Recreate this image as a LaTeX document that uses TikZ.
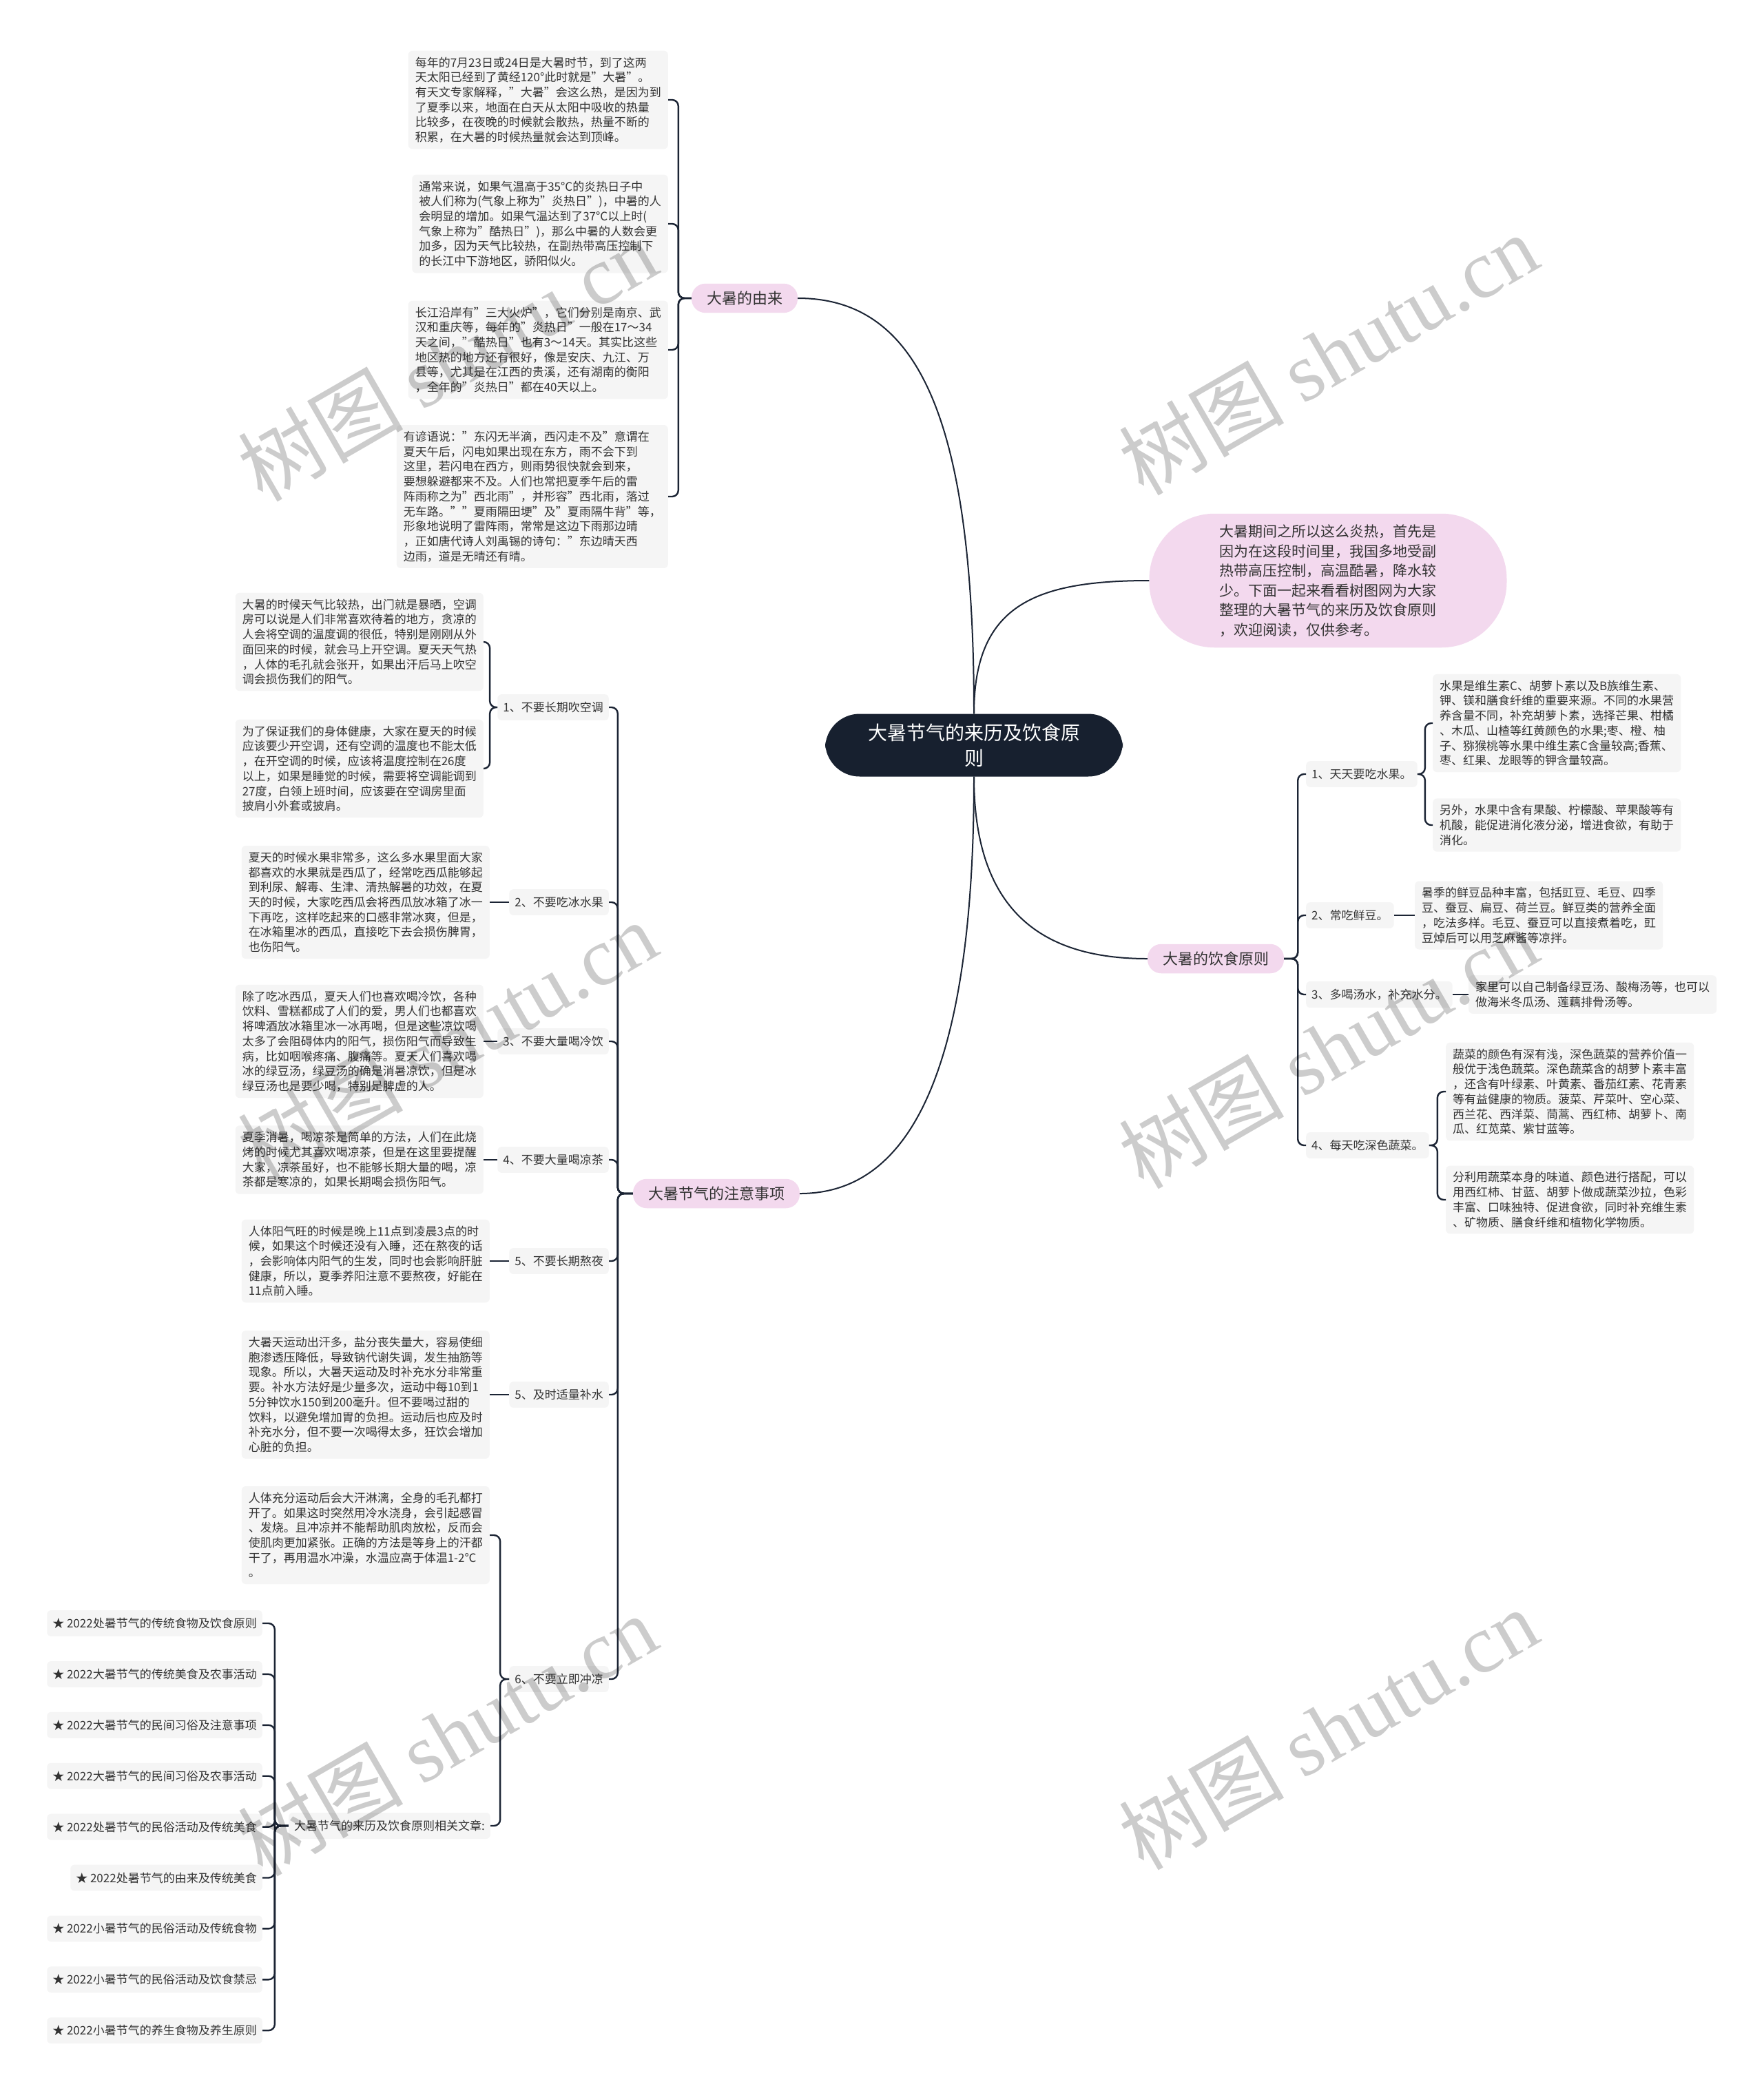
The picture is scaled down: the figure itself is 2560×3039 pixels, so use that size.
\documentclass[tikz,border=0pt]{standalone}
\usepackage{fontspec}
\setmainfont{Noto Sans CJK SC}
\newfontfamily\wmlatin{Liberation Serif}
\usepackage{xcolor}
\usepackage{tikz}

\definecolor{inkline}{HTML}{1B2434}
\definecolor{rootfill}{HTML}{17202F}
\definecolor{pinkfill}{HTML}{F3D9EE}
\definecolor{boxfill}{HTML}{F5F5F5}
\definecolor{txtgray}{HTML}{333333}

\begin{document}
\begin{tikzpicture}[
  x=1pt, y=-1pt,
  rootbox/.style={fill=rootfill, text=white, rounded corners=50pt, align=center,
                  font=\fontsize{28}{37}\selectfont, inner xsep=62pt, inner ysep=14pt},
  topicbox/.style={fill=pinkfill, rounded corners=20pt, text=txtgray,
                   font=\fontsize{22}{27}\selectfont, inner xsep=22pt, inner ysep=11pt},
  introbox/.style={fill=pinkfill, rounded corners=95pt, align=left, text=txtgray,
                   font=\fontsize{21}{28.5}\selectfont, inner xsep=102pt, inner ysep=16pt},
  subbox/.style={fill=boxfill, rounded corners=6pt, text=txtgray,
                 font=\fontsize{17}{21.7}\selectfont, inner xsep=8pt, inner ysep=11pt},
  textbox/.style={fill=boxfill, rounded corners=6pt, align=left, text=txtgray,
                  font=\fontsize{17}{21.7}\selectfont, inner xsep=10pt, inner ysep=9pt},
  trunk/.style={draw=inkline, line width=2pt},
  branch/.style={draw=inkline, line width=2.4pt, rounded corners=9pt},
  wmark/.style={rotate=30, text=black, text opacity=0.2, font=\fontsize{120}{125}\selectfont}
]
\fill[white] (0,0) rectangle (2560,3039);
\useasboundingbox (0,0) rectangle (2560,3039);

%% centre and first level
\node[rootbox] (root) at (1414,1082) {大暑节气的来历及饮食原\\则};
\node[topicbox] (yl) at (1081,433) {大暑的由来};
\node[introbox] (intro) at (1928,843) {大暑期间之所以这么炎热，首先是\\因为在这段时间里，我国多地受副\\热带高压控制，高温酷暑，降水较\\少。下面一起来看看树图网为大家\\整理的大暑节气的来历及饮食原则\\，欢迎阅读，仅供参考。};
\node[topicbox] (ys) at (1765,1392) {大暑的饮食原则};
\node[topicbox] (zy) at (1040,1733) {大暑节气的注意事项};

\draw[trunk] (root.north) .. controls (1414,600) and (1330,433) .. (yl.east);
\draw[trunk] (root.north) .. controls (1414,880) and (1500,843) .. (intro.west);
\draw[trunk] (root.south) .. controls (1414,1330) and (1520,1392) .. (ys.west);
\draw[trunk] (root.south) .. controls (1414,1600) and (1300,1733) .. (zy.east);

%% the origin
\node[textbox, anchor=east] (yl1) at (970,145) {每年的7月23日或24日是大暑时节，到了这两\\天太阳已经到了黄经120°此时就是"大暑"。\\有天文专家解释，"大暑"会这么热，是因为到\\了夏季以来，地面在白天从太阳中吸收的热量\\比较多，在夜晚的时候就会散热，热量不断的\\积累，在大暑的时候热量就会达到顶峰。};
\node[textbox, anchor=east] (yl2) at (970,325) {通常来说，如果气温高于35°C的炎热日子中\\被人们称为(气象上称为"炎热日")，中暑的人\\会明显的增加。如果气温达到了37°C以上时(\\气象上称为"酷热日")，那么中暑的人数会更\\加多，因为天气比较热，在副热带高压控制下\\的长江中下游地区，骄阳似火。};
\node[textbox, anchor=east] (yl3) at (970,508) {长江沿岸有"三大火炉"，它们分别是南京、武\\汉和重庆等，每年的"炎热日"一般在17～34\\天之间，"酷热日"也有3～14天。其实比这些\\地区热的地方还有很好，像是安庆、九江、万\\县等，尤其是在江西的贵溪，还有湖南的衡阳\\，全年的"炎热日"都在40天以上。};
\node[textbox, anchor=east] (yl4) at (970,721) {有谚语说："东闪无半滴，西闪走不及"意谓在\\夏天午后，闪电如果出现在东方，雨不会下到\\这里，若闪电在西方，则雨势很快就会到来，\\要想躲避都来不及。人们也常把夏季午后的雷\\阵雨称之为"西北雨"，并形容"西北雨，落过\\无车路。""夏雨隔田埂"及"夏雨隔牛背"等，\\形象地说明了雷阵雨，常常是这边下雨那边晴\\，正如唐代诗人刘禹锡的诗句："东边晴天西\\边雨，道是无晴还有晴。};

\draw[branch] (yl.west) -- ++(-19,0) |- (yl1.east);
\draw[branch] (yl.west) -- ++(-19,0) |- (yl2.east);
\draw[branch] (yl.west) -- ++(-19,0) |- (yl3.east);
\draw[branch] (yl.west) -- ++(-19,0) |- (yl4.east);

%% eating principles
\node[subbox, anchor=west] (ys1) at (1896,1124) {1、天天要吃水果。};
\node[subbox, anchor=west] (ys2) at (1896,1329) {2、常吃鲜豆。};
\node[subbox, anchor=west] (ys3) at (1896,1444) {3、多喝汤水，补充水分。};
\node[subbox, anchor=west] (ys4) at (1896,1663) {4、每天吃深色蔬菜。};

\draw[branch] (ys.east) -- ++(20,0) |- (ys1.west);
\draw[branch] (ys.east) -- ++(20,0) |- (ys2.west);
\draw[branch] (ys.east) -- ++(20,0) |- (ys3.west);
\draw[branch] (ys.east) -- ++(20,0) |- (ys4.west);

\node[textbox, anchor=west] (ys1a) at (2080,1050) {水果是维生素C、胡萝卜素以及B族维生素、\\钾、镁和膳食纤维的重要来源。不同的水果营\\养含量不同，补充胡萝卜素，选择芒果、柑橘\\、木瓜、山楂等红黄颜色的水果;枣、橙、柚\\子、猕猴桃等水果中维生素C含量较高;香蕉、\\枣、红果、龙眼等的钾含量较高。};
\node[textbox, anchor=west] (ys1b) at (2080,1198) {另外，水果中含有果酸、柠檬酸、苹果酸等有\\机酸，能促进消化液分泌，增进食欲，有助于\\消化。};
\node[textbox, anchor=west] (ys2a) at (2054,1329) {暑季的鲜豆品种丰富，包括豇豆、毛豆、四季\\豆、蚕豆、扁豆、荷兰豆。鲜豆类的营养全面\\，吃法多样。毛豆、蚕豆可以直接煮着吃，豇\\豆焯后可以用芝麻酱等凉拌。};
\node[textbox, anchor=west] (ys3a) at (2132,1444) {家里可以自己制备绿豆汤、酸梅汤等，也可以\\做海米冬瓜汤、莲藕排骨汤等。};
\node[textbox, anchor=west] (ys4a) at (2099,1585) {蔬菜的颜色有深有浅，深色蔬菜的营养价值一\\般优于浅色蔬菜。深色蔬菜含的胡萝卜素丰富\\，还含有叶绿素、叶黄素、番茄红素、花青素\\等有益健康的物质。菠菜、芹菜叶、空心菜、\\西兰花、西洋菜、茼蒿、西红柿、胡萝卜、南\\瓜、红苋菜、紫甘蓝等。};
\node[textbox, anchor=west] (ys4b) at (2099,1742) {分利用蔬菜本身的味道、颜色进行搭配，可以\\用西红柿、甘蓝、胡萝卜做成蔬菜沙拉，色彩\\丰富、口味独特、促进食欲，同时补充维生素\\、矿物质、膳食纤维和植物化学物质。};

\draw[branch] (ys1.east) -- ++(11,0) |- (ys1a.west);
\draw[branch] (ys1.east) -- ++(11,0) |- (ys1b.west);
\draw[branch] (ys2.east) -- (ys2a.west);
\draw[branch] (ys3.east) -- (ys3a.west);
\draw[branch] (ys4.east) -- ++(12,0) |- (ys4a.west);
\draw[branch] (ys4.east) -- ++(12,0) |- (ys4b.west);

%% things to watch
\node[subbox, anchor=east] (zy1) at (884,1027) {1、不要长期吹空调};
\node[subbox, anchor=east] (zy2) at (884,1310) {2、不要吃冰水果};
\node[subbox, anchor=east] (zy3) at (884,1512) {3、不要大量喝冷饮};
\node[subbox, anchor=east] (zy4) at (884,1684) {4、不要大量喝凉茶};
\node[subbox, anchor=east] (zy5) at (884,1831) {5、不要长期熬夜};
\node[subbox, anchor=east] (zy6) at (884,2025) {5、及时适量补水};
\node[subbox, anchor=east] (zy7) at (884,2438) {6、不要立即冲凉};

\draw[branch] (zy.west) -- ++(-22,0) |- (zy1.east);
\draw[branch] (zy.west) -- ++(-22,0) |- (zy2.east);
\draw[branch] (zy.west) -- ++(-22,0) |- (zy3.east);
\draw[branch] (zy.west) -- ++(-22,0) |- (zy4.east);
\draw[branch] (zy.west) -- ++(-22,0) |- (zy5.east);
\draw[branch] (zy.west) -- ++(-22,0) |- (zy6.east);
\draw[branch] (zy.west) -- ++(-22,0) |- (zy7.east);

\node[textbox, anchor=east] (zy1a) at (702,932) {大暑的时候天气比较热，出门就是暴晒，空调\\房可以说是人们非常喜欢待着的地方，贪凉的\\人会将空调的温度调的很低，特别是刚刚从外\\面回来的时候，就会马上开空调。夏天天气热\\，人体的毛孔就会张开，如果出汗后马上吹空\\调会损伤我们的阳气。};
\node[textbox, anchor=east] (zy1b) at (702,1116) {为了保证我们的身体健康，大家在夏天的时候\\应该要少开空调，还有空调的温度也不能太低\\，在开空调的时候，应该将温度控制在26度\\以上，如果是睡觉的时候，需要将空调能调到\\27度，白领上班时间，应该要在空调房里面\\披肩小外套或披肩。};
\node[textbox, anchor=east] (zy2a) at (711,1310) {夏天的时候水果非常多，这么多水果里面大家\\都喜欢的水果就是西瓜了，经常吃西瓜能够起\\到利尿、解毒、生津、清热解暑的功效，在夏\\天的时候，大家吃西瓜会将西瓜放冰箱了冰一\\下再吃，这样吃起来的口感非常冰爽，但是，\\在冰箱里冰的西瓜，直接吃下去会损伤脾胃，\\也伤阳气。};
\node[textbox, anchor=east] (zy3a) at (702,1512) {除了吃冰西瓜，夏天人们也喜欢喝冷饮，各种\\饮料、雪糕都成了人们的爱，男人们也都喜欢\\将啤酒放冰箱里冰一冰再喝，但是这些凉饮喝\\太多了会阻碍体内的阳气，损伤阳气而导致生\\病，比如咽喉疼痛、腹痛等。夏天人们喜欢喝\\冰的绿豆汤，绿豆汤的确是消暑凉饮，但是冰\\绿豆汤也是要少喝，特别是脾虚的人。};
\node[textbox, anchor=east] (zy4a) at (702,1684) {夏季消暑，喝凉茶是简单的方法，人们在此烧\\烤的时候尤其喜欢喝凉茶，但是在这里要提醒\\大家，凉茶虽好，也不能够长期大量的喝，凉\\茶都是寒凉的，如果长期喝会损伤阳气。};
\node[textbox, anchor=east] (zy5a) at (711,1831) {人体阳气旺的时候是晚上11点到凌晨3点的时\\候，如果这个时候还没有入睡，还在熬夜的话\\，会影响体内阳气的生发，同时也会影响肝脏\\健康，所以，夏季养阳注意不要熬夜，好能在\\11点前入睡。};
\node[textbox, anchor=east] (zy6a) at (711,2025) {大暑天运动出汗多，盐分丧失量大，容易使细\\胞渗透压降低，导致钠代谢失调，发生抽筋等\\现象。所以，大暑天运动及时补充水分非常重\\要。补水方法好是少量多次，运动中每10到1\\5分钟饮水150到200毫升。但不要喝过甜的\\饮料，以避免增加胃的负担。运动后也应及时\\补充水分，但不要一次喝得太多，狂饮会增加\\心脏的负担。};
\node[textbox, anchor=east] (zy7a) at (711,2229) {人体充分运动后会大汗淋漓，全身的毛孔都打\\开了。如果这时突然用冷水浇身，会引起感冒\\、发烧。且冲凉并不能帮助肌肉放松，反而会\\使肌肉更加紧张。正确的方法是等身上的汗都\\干了，再用温水冲澡，水温应高于体温1-2℃\\。};
\node[subbox, anchor=east] (zyrel) at (712,2651) {大暑节气的来历及饮食原则相关文章:};

\draw[branch] (zy1.west) -- ++(-11,0) |- (zy1a.east);
\draw[branch] (zy1.west) -- ++(-11,0) |- (zy1b.east);
\draw[branch] (zy2.west) -- (zy2a.east);
\draw[branch] (zy3.west) -- (zy3a.east);
\draw[branch] (zy4.west) -- (zy4a.east);
\draw[branch] (zy5.west) -- (zy5a.east);
\draw[branch] (zy6.west) -- (zy6a.east);
\draw[branch] (zy7.west) -- ++(-13,0) |- (zy7a.east);
\draw[branch] (zy7.west) -- ++(-13,0) |- (zyrel.east);

%% related articles
\foreach \txt [count=\i] in {2022处暑节气的传统食物及饮食原则, 2022大暑节气的传统美食及农事活动,
    2022大暑节气的民间习俗及注意事项, 2022大暑节气的民间习俗及农事活动, 2022处暑节气的民俗活动及传统美食,
    2022处暑节气的由来及传统美食, 2022小暑节气的民俗活动及传统食物, 2022小暑节气的民俗活动及饮食禁忌,
    2022小暑节气的养生食物及养生原则} {
  \node[subbox, anchor=east] (rel\i) at (381,{2357+(\i-1)*73.9}) {★ \txt};
  \draw[branch] (zyrel.west) -- ++(-20,0) |- (rel\i.east);
}

%% watermark
\node[wmark] (wm1) at (649,523) {树图 {\wmlatin shutu.cn}};
\node[wmark] (wm2) at (1928,514) {树图 {\wmlatin shutu.cn}};
\node[wmark] (wm3) at (649,1512) {树图 {\wmlatin shutu.cn}};
\node[wmark] (wm4) at (1928,1521) {树图 {\wmlatin shutu.cn}};
\node[wmark] (wm5) at (649,2519) {树图 {\wmlatin shutu.cn}};
\node[wmark] (wm6) at (1928,2510) {树图 {\wmlatin shutu.cn}};
\end{tikzpicture}
\end{document}
